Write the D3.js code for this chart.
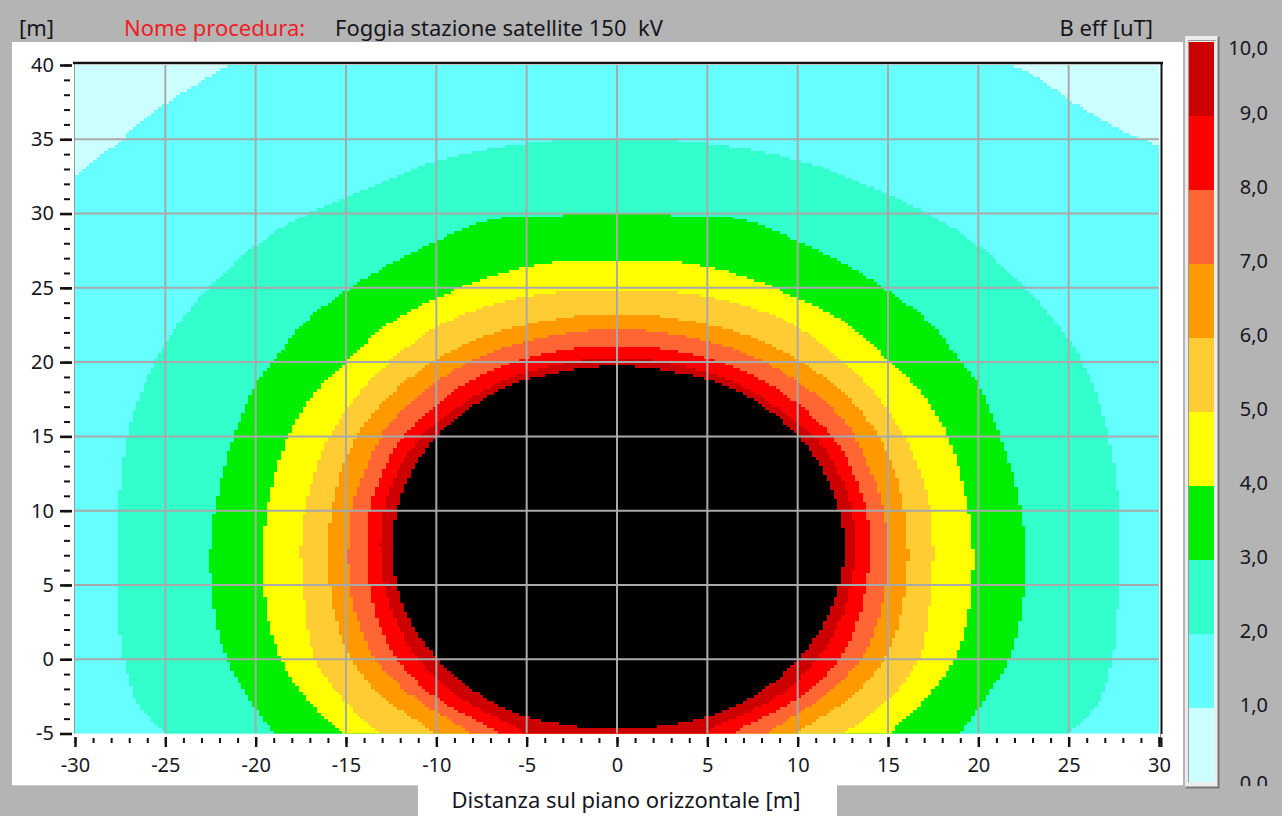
<!DOCTYPE html>
<html>
<head>
<meta charset="utf-8" />
<title>B eff</title>
<script src="https://cdnjs.cloudflare.com/ajax/libs/d3/7.8.5/d3.min.js"></script>
<style>
  body { margin: 0; background: #b4b4b4; }
  svg { display: block; }
  text { font-family: "Noto Sans", "Open Sans", sans-serif; fill: #16161e; }
</style>
</head>
<body>
<svg width="1282" height="816"></svg>
<script>
// colour classes 0-1, 1-2 ... 9-10 uT, black above 10 uT
const levelColors = ["#ccffff", "#66ffff", "#33ffcc", "#00ee00", "#ffff00",
                     "#ffcc33", "#ff9900", "#ff6633", "#ff0000", "#cc0000"];
const aboveColor = "#000000";
const legendValues = [0, 1, 2, 3, 4, 5, 6, 7, 8, 9, 10];
const legendLabels = ["0,0", "1,0", "2,0", "3,0", "4,0", "5,0", "6,0", "7,0", "8,0", "9,0", "10,0"];

const xTickLabels = [-30, -25, -20, -15, -10, -5, 0, 5, 10, 15, 20, 25, 30];
const yTickLabels = [40, 35, 30, 25, 20, 15, 10, 5, 0, -5];
const xGrid = [-25, -20, -15, -10, -5, 0, 5, 10, 15, 20, 25];
const yGrid = [0, 5, 10, 15, 20, 25, 30, 35];

// iso-lines, [x m, y m]; points below -5 / outside +-30 only close the shapes
const ring1 = [[-33,-8],[-33,28],[-31.5,31],[-30,32.6],[-28,34.4],[-25,37.4],[-23,38.9],[-21.5,40],[-19,41.5],[0,44],
  [19,41.5],[21.9,40],[23.5,39],[25,37.7],[27.9,35.6],[30,34.5],[31.5,33],[33,29],[33,-8]];
const ring2 = [[-23.5,-7.5],[-25,-5],[-26.5,-3],[-27.3,0],[-27.6,3.5],[-27.6,7.5],[-27.5,11.5],[-27.1,15],[-26.3,18],
  [-25,21.2],[-23,24.5],[-20,27.8],[-17.9,29.5],[-15,31.1],[-10,33.5],[-5,34.7],[0,35.1],[5,34.7],[10,33.6],[15,31.3],
  [17.9,29.5],[20,27.8],[23,24.5],[25,21.5],[26.4,18.3],[27.2,15],[27.7,11.5],[27.8,7.5],[27.7,3.5],[27.4,0],[26.6,-3],[25,-5],[23.5,-7.5]];
const ring3 = [[-17.5,-7.5],[-19,-5],[-20.6,-2.2],[-21.6,0],[-22.3,3.3],[-22.5,7.5],[-22,11.6],[-21.2,15],[-20,18.5],
  [-19,20.1],[-17.1,22.9],[-15,24.8],[-12.4,26.7],[-10,28.1],[-7.3,29.5],[-3,29.9],[0,30],[3,29.9],[7.3,29.5],[10,28.1],
  [12.5,26.7],[15,24.8],[17.1,22.9],[19,20.1],[20,18.5],[21.2,15],[22.1,11.6],[22.6,7.5],[22.4,3.3],[21.7,0],[20.6,-2.2],[19,-5],[17.5,-7.5]];
const ring4 = [[-13.5,-7.5],[-15.2,-5],[-17.3,-2.5],[-18.6,0],[-19.4,3.3],[-19.6,7.5],[-19.3,10.5],[-18.2,15],[-16.7,18],
  [-15,20],[-12.6,22.6],[-9.3,24.7],[-6.6,25.9],[-3.6,26.7],[0,26.9],[3.6,26.7],[6.7,25.9],[9.3,24.7],[12.7,22.6],
  [15.1,20],[16.8,18],[18.3,15],[19.4,10.5],[19.7,7.5],[19.5,3.3],[18.7,0],[17.2,-2.5],[15.1,-5],[13.5,-7.5]];
const ring5 = [[-11.5,-7],[-13.2,-5],[-15.3,-2.5],[-16.7,0],[-17.25,3.5],[-17.5,7.5],[-17.1,11],[-15.9,15],[-14.2,18],
  [-12.7,19.9],[-9.6,22.6],[-5.5,24.3],[0,24.9],[5.5,24.3],[9.6,22.6],[12.6,19.9],[14.2,18],[15.9,15],[17.2,11],
  [17.5,7.5],[17.3,3.5],[16.7,0],[15.2,-2.5],[12.6,-5],[11,-7]];
const ring6 = [[-8.5,-6.8],[-10,-5],[-13,-2.5],[-14.7,0],[-15.5,2.5],[-15.9,5],[-16,7.5],[-15.8,10],[-15,13.5],[-13.2,17],
  [-10.2,20],[-6.6,22],[0,23.3],[6.6,22],[10.2,20],[13.3,17],[15.1,13.5],[15.9,10],[16.1,7.5],[16,5],[15.6,2.5],[14.8,0],
  [13,-2.5],[9.9,-5],[8.4,-6.8]];
const ring7 = [[-6.8,-6.6],[-8.1,-5],[-11.3,-2.5],[-13.4,0],[-14.3,2.5],[-14.8,5],[-14.9,7.5],[-14.7,10],[-14,12.5],
  [-12.5,16],[-9.6,19],[-6.1,21],[0,22.2],[6.1,21],[9.6,19],[12.6,16],[14.1,12.5],[14.8,10],[15,7.5],[14.9,5],[14.4,2.5],
  [13.5,0],[11.4,-2.5],[8.3,-5],[7,-6.6]];
const ring8 = [[-5.3,-6.5],[-6.5,-5],[-10.1,-2.5],[-12.2,0],[-13.2,2.5],[-13.7,5],[-13.9,7.5],[-13.7,10],[-13,12.5],
  [-11.8,15],[-9.1,18],[-5.7,20],[0,21.1],[5.7,20],[9.1,18],[11.9,15],[13.1,12.5],[13.8,10],[14,7.5],[13.8,5],[13.3,2.5],
  [12.3,0],[10.2,-2.5],[6.4,-5],[5.2,-6.5]];
const ring9 = [[-4,-6.3],[-5,-5],[-8.8,-2.5],[-11,0],[-12.2,2.5],[-12.85,5],[-13.1,7.5],[-12.9,10],[-12.2,12.5],
  [-10.8,15],[-8.8,17],[-5.8,19],[0,20.3],[5.8,19],[8.8,17],[10.9,15],[12.3,12.5],[13,10],[13.2,7.5],[12.95,5],
  [12.3,2.5],[11.1,0],[8.9,-2.5],[4.8,-5],[3.8,-6.3]];
const ring10 = [[0,-4.65],[-3.3,-4.3],[-6.2,-3.3],[-8.5,-1.6],[-10.3,0.5],[-11.6,3],[-12.3,5.5],[-12.45,7.5],[-12.3,9.5],
  [-11.6,12],[-10.3,14.5],[-8.5,16.6],[-6.2,18.3],[-3.3,19.3],[0,19.75],[3.3,19.3],[6.3,18.3],[8.6,16.6],[10.4,14.5],
  [11.7,12],[12.4,9.5],[12.55,7.5],[12.4,5.5],[11.7,3],[10.4,0.5],[8.6,-1.6],[6.3,-3.3],[3.4,-4.3]];
const rings = [ring1, ring2, ring3, ring4, ring5, ring6, ring7, ring8, ring9, ring10];

const cell = 0.2; // size of the calculation grid, metres

const svg = d3.select("svg");
const x = d3.scaleLinear().domain([-30, 30]).range([75, 1159]);
const y = d3.scaleLinear().domain([-5, 40]).range([733.5, 65]);

// window background, white chart panel, label tab
svg.append("rect").attr("width", 1282).attr("height", 816).attr("fill", "#b4b4b4");
svg.append("rect").attr("x", 12).attr("y", 42).attr("width", 1171).attr("height", 743).attr("fill", "#fff");
svg.append("line").attr("x1", 12).attr("x2", 1183).attr("y1", 785.5).attr("y2", 785.5).attr("stroke", "#c8c8c8");
svg.append("rect").attr("x", 418).attr("y", 785).attr("width", 419).attr("height", 31).attr("fill", "#fff");

svg.append("defs").append("clipPath").attr("id", "plot")
  .append("rect").attr("x", x(-30)).attr("y", y(40))
  .attr("width", x(30) - x(-30)).attr("height", y(-5) - y(40));

const field = svg.append("g").attr("clip-path", "url(#plot)").attr("shape-rendering", "crispEdges");
field.append("rect").attr("x", x(-30)).attr("y", y(40))
  .attr("width", x(30) - x(-30)).attr("height", y(-5) - y(40)).attr("fill", levelColors[0]);

// smooth iso-line through the read points, then filled row by row on the grid (blocky like the original)
const line = d3.line().x(d => x(d[0])).y(d => y(d[1])).curve(d3.curveCatmullRomClosed.alpha(0.5));
const rowCenters = d3.range(-5 + cell / 2, 40, cell);
rings.forEach((ring, i) => {
  const tmp = svg.append("path").attr("d", line(ring)).attr("fill", "none");
  const node = tmp.node();
  const len = node.getTotalLength();
  const pts = d3.range(0, len, 1).map(l => {
    const q = node.getPointAtLength(l);
    return [x.invert(q.x), y.invert(q.y)];
  });
  tmp.remove();
  const spans = [];
  rowCenters.forEach(yc => {
    const xs = [];
    pts.forEach((a, k) => {
      const b = pts[(k + 1) % pts.length];
      if ((a[1] <= yc) !== (b[1] <= yc)) xs.push(a[0] + (yc - a[1]) / (b[1] - a[1]) * (b[0] - a[0]));
    });
    xs.sort((u, v) => u - v);
    for (let k = 0; k + 1 < xs.length; k += 2) {
      spans.push({ y: yc, x0: Math.round(xs[k] / cell) * cell, x1: Math.round(xs[k + 1] / cell) * cell });
    }
  });
  field.append("g").selectAll("rect").data(spans).join("rect")
    .attr("x", d => x(d.x0)).attr("width", d => Math.max(0, x(d.x1) - x(d.x0)))
    .attr("y", d => y(d.y + cell / 2)).attr("height", d => y(d.y - cell / 2) - y(d.y + cell / 2))
    .attr("fill", i < 9 ? levelColors[i + 1] : aboveColor);
});

// grid
const grid = svg.append("g").attr("clip-path", "url(#plot)");
grid.selectAll("line.gx").data(xGrid).join("line")
  .attr("x1", d => x(d)).attr("x2", d => x(d)).attr("y1", y(40)).attr("y2", y(-5))
  .attr("stroke", "#a9a9a9").attr("stroke-width", 2);
grid.selectAll("line.gy").data(yGrid).join("line")
  .attr("y1", d => y(d)).attr("y2", d => y(d)).attr("x1", x(-30)).attr("x2", x(30))
  .attr("stroke", "#a9a9a9").attr("stroke-width", 2);

// frame
svg.append("line").attr("x1", 74.5).attr("x2", 74.5).attr("y1", 63).attr("y2", 734).attr("stroke", "#999");
svg.append("line").attr("x1", 73).attr("x2", 1163).attr("y1", 63).attr("y2", 63).attr("stroke", "#111").attr("stroke-width", 2.5);
svg.append("line").attr("x1", 1161.5).attr("x2", 1161.5).attr("y1", 62).attr("y2", 747).attr("stroke", "#111").attr("stroke-width", 2);
svg.append("rect").attr("x", 1161).attr("y", 734).attr("width", 3).attr("height", 3.5).attr("fill", "#fff");

// axes
const styleAxis = (g, w) => {
  g.select(".domain").remove();
  g.selectAll(".tick line").attr("stroke", "#111").attr("stroke-width", w);
  g.selectAll(".tick text").style("font-size", "20px").attr("fill", "#16161e");
};
svg.append("g").attr("transform", "translate(0,738)")
  .call(d3.axisBottom(x).tickValues(d3.range(-30, 31)).tickSize(5).tickFormat(""))
  .call(g => styleAxis(g, 2));
svg.append("g").attr("transform", "translate(0,737)")
  .call(d3.axisBottom(x).tickValues(xTickLabels).tickSize(10).tickPadding(11).tickFormat(d => String(d)))
  .call(g => styleAxis(g, 2.4));
svg.append("g").attr("transform", "translate(70,0)")
  .call(d3.axisLeft(y).tickValues(d3.range(-5, 41)).tickSize(6).tickFormat(""))
  .call(g => styleAxis(g, 2));
svg.append("g").attr("transform", "translate(72,0)")
  .call(d3.axisLeft(y).tickValues(yTickLabels).tickSize(12).tickPadding(6).tickFormat(d => String(d)))
  .call(g => styleAxis(g, 2.6));

// header texts
const head = svg.append("g").style("font-size", "22px");
head.append("text").attr("x", 19).attr("y", 36).text("[m]");
head.append("text").attr("x", 124).attr("y", 36).style("fill", "#f01d24").text("Nome procedura:");
head.append("text").attr("x", 335).attr("y", 36).attr("xml:space", "preserve").text("Foggia stazione satellite 150  kV");
head.append("text").attr("x", 1153).attr("y", 36).attr("text-anchor", "end").text("B eff [uT]");
svg.append("text").attr("x", 626).attr("y", 808).attr("text-anchor", "middle").style("font-size", "22px")
  .text("Distanza sul piano orizzontale [m]");

// colour legend
const yl = d3.scaleLinear().domain([0, 10]).range([782, 42]);
svg.append("rect").attr("x", 1185).attr("y", 36).attr("width", 34).attr("height", 752).attr("fill", "#ececec");
svg.append("path").attr("d", "M1185.5,787.5 H1218.5 V36.5").attr("fill", "none").attr("stroke", "#767676").attr("stroke-width", 2);
svg.append("path").attr("d", "M1188.5,782.5 V40.5 H1215.5").attr("fill", "none").attr("stroke", "#9a9a9a").attr("stroke-width", 1);
svg.selectAll("rect.leg").data(levelColors).join("rect")
  .attr("class", "leg")
  .attr("x", 1189).attr("width", 25)
  .attr("y", (d, i) => yl(i + 1)).attr("height", (d, i) => yl(i) - yl(i + 1))
  .attr("fill", d => d);

svg.select("defs").append("clipPath").attr("id", "legclip")
  .append("rect").attr("x", 1220).attr("y", 0).attr("width", 62).attr("height", 786);
svg.append("g").attr("clip-path", "url(#legclip)")
  .selectAll("text").data(legendValues).join("text")
  .attr("x", 1268).attr("text-anchor", "end")
  .attr("y", d => d === 0 ? yl(0) + 1 : Math.max(yl(d) - 3, 48)).attr("dy", "0.35em")
  .style("font-size", "20px")
  .text((d, i) => legendLabels[i]);
</script>
</body>
</html>
